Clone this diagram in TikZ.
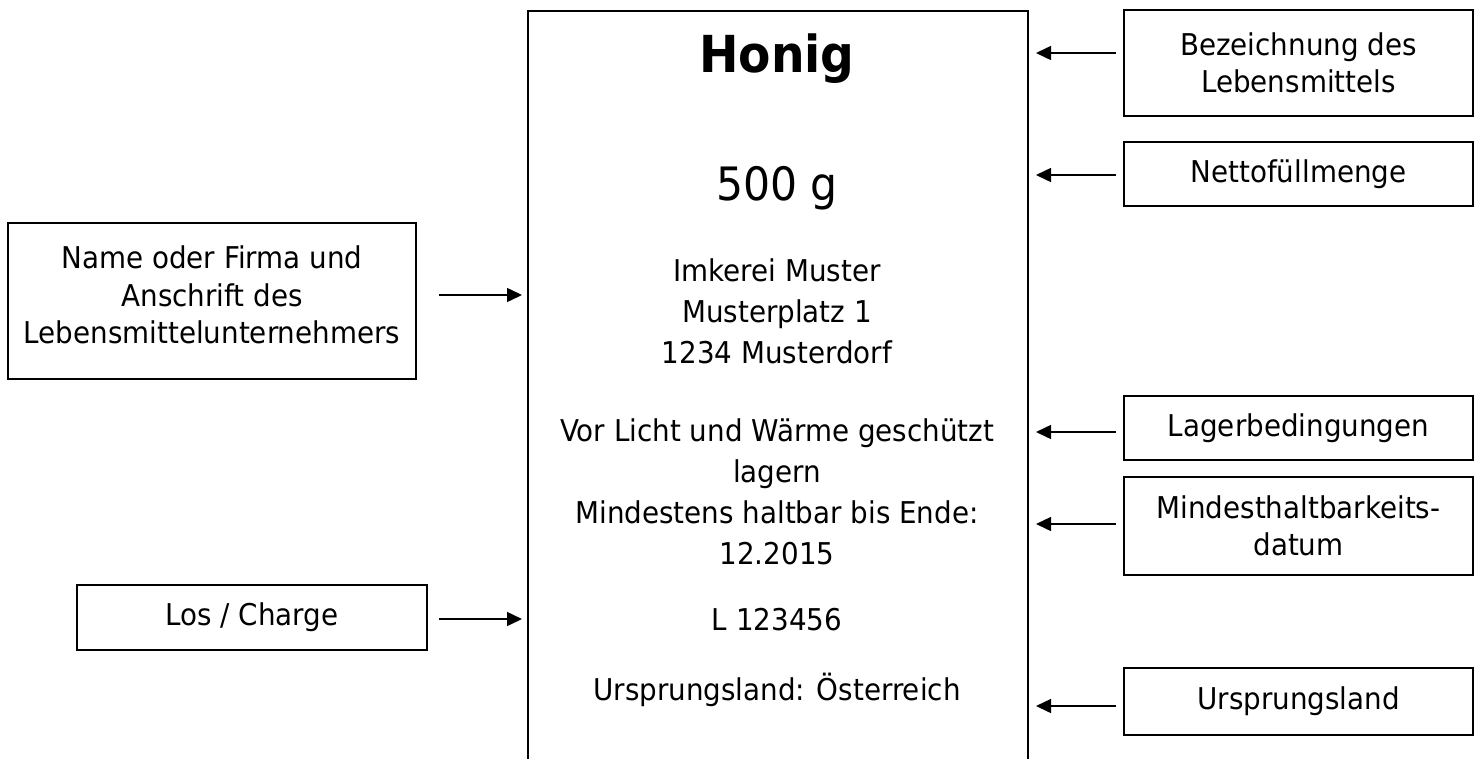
\documentclass[tikz,border=0pt]{standalone}
\usepackage{fontspec}
\setmainfont{DejaVu Sans}[FakeStretch=0.925]
\usetikzlibrary{arrows.meta}
\begin{document}
\begin{tikzpicture}[x=1pt,y=1pt,
  lbl/.style={draw, line width=1.5pt, align=center, inner sep=0pt,
    font=\fontsize{30}{37.5}\selectfont},
  body/.style={anchor=base, inner sep=0pt, font=\fontsize{30}{37}\selectfont},
  arr/.style={line width=1.5pt, -{Triangle[length=15pt,width=14pt]}}]
\useasboundingbox (0,0) rectangle (1480,-758);
% main label
\node[draw, line width=2pt, minimum width=500pt, minimum height=900pt,
      anchor=north west, inner sep=0pt] (main) at (527,-10) {};
\node[anchor=base, inner sep=0pt, font=\fontsize{51}{60}\selectfont\bfseries] (honig) at (777,-72) {Honig};
\node[anchor=base, inner sep=0pt, font=\fontsize{46}{54}\selectfont] (menge) at (777,-200) {500 g};
\node[body] (a1) at (777,-281) {Imkerei Muster};
\node[body] (a2) at (777,-322) {Musterplatz 1};
\node[body] (a3) at (777,-363) {1234 Musterdorf};
\node[body] (b1) at (777,-441) {Vor Licht und Wärme geschützt};
\node[body] (b2) at (777,-482) {lagern};
\node[body] (b3) at (777,-523) {Mindestens haltbar bis Ende:};
\node[body] (b4) at (777,-564) {12.2015};
\node[body] (c1) at (777,-630) {L 123456};
\node[body] (c2) at (777,-700) {Ursprungsland: Österreich};
% right boxes
\node[lbl, minimum width=349pt, minimum height=106pt] (bez) at (1298.5,-63) {Bezeichnung des\\Lebensmittels};
\node[lbl, minimum width=349pt, minimum height=64pt] (netto) at (1298.5,-174) {Nettofüllmenge};
\node[lbl, minimum width=349pt, minimum height=64pt] (lager) at (1298.5,-428) {Lagerbedingungen};
\node[lbl, minimum width=349pt, minimum height=98pt] (mhd) at (1298.5,-526) {Mindesthaltbarkeits-\\datum};
\node[lbl, minimum width=349pt, minimum height=67pt] (land) at (1298.5,-701.5) {Ursprungsland};
% left boxes
\node[lbl, minimum width=408pt, minimum height=156pt] (name) at (212,-301) {};
\node[lbl, draw=none] (nametext) at (212,-295) {Name oder Firma und\\Anschrift des\\Lebensmittelunternehmers};
\node[lbl, minimum width=350pt, minimum height=65pt] (los) at (252,-617.5) {Los / Charge};
% arrows
\begin{scope}[shorten <=7pt, shorten >=7pt]
\draw[arr] ([yshift=10pt]bez.west) -- ([yshift=10pt]bez.west -| main.east);
\draw[arr] ([yshift=-1pt]netto.west) -- ([yshift=-1pt]netto.west -| main.east);
\draw[arr] ([yshift=-4pt]lager.west) -- ([yshift=-4pt]lager.west -| main.east);
\draw[arr] ([yshift=2pt]mhd.west) -- ([yshift=2pt]mhd.west -| main.east);
\draw[arr] ([yshift=-4.5pt]land.west) -- ([yshift=-4.5pt]land.west -| main.east);
\end{scope}
\draw[arr, shorten <=22pt, shorten >=5pt] ([yshift=6pt]name.east) -- ([yshift=6pt]name.east -| main.west);
\draw[arr, shorten <=11pt, shorten >=5pt] ([yshift=-1.5pt]los.east) -- ([yshift=-1.5pt]los.east -| main.west);
\end{tikzpicture}
\end{document}
